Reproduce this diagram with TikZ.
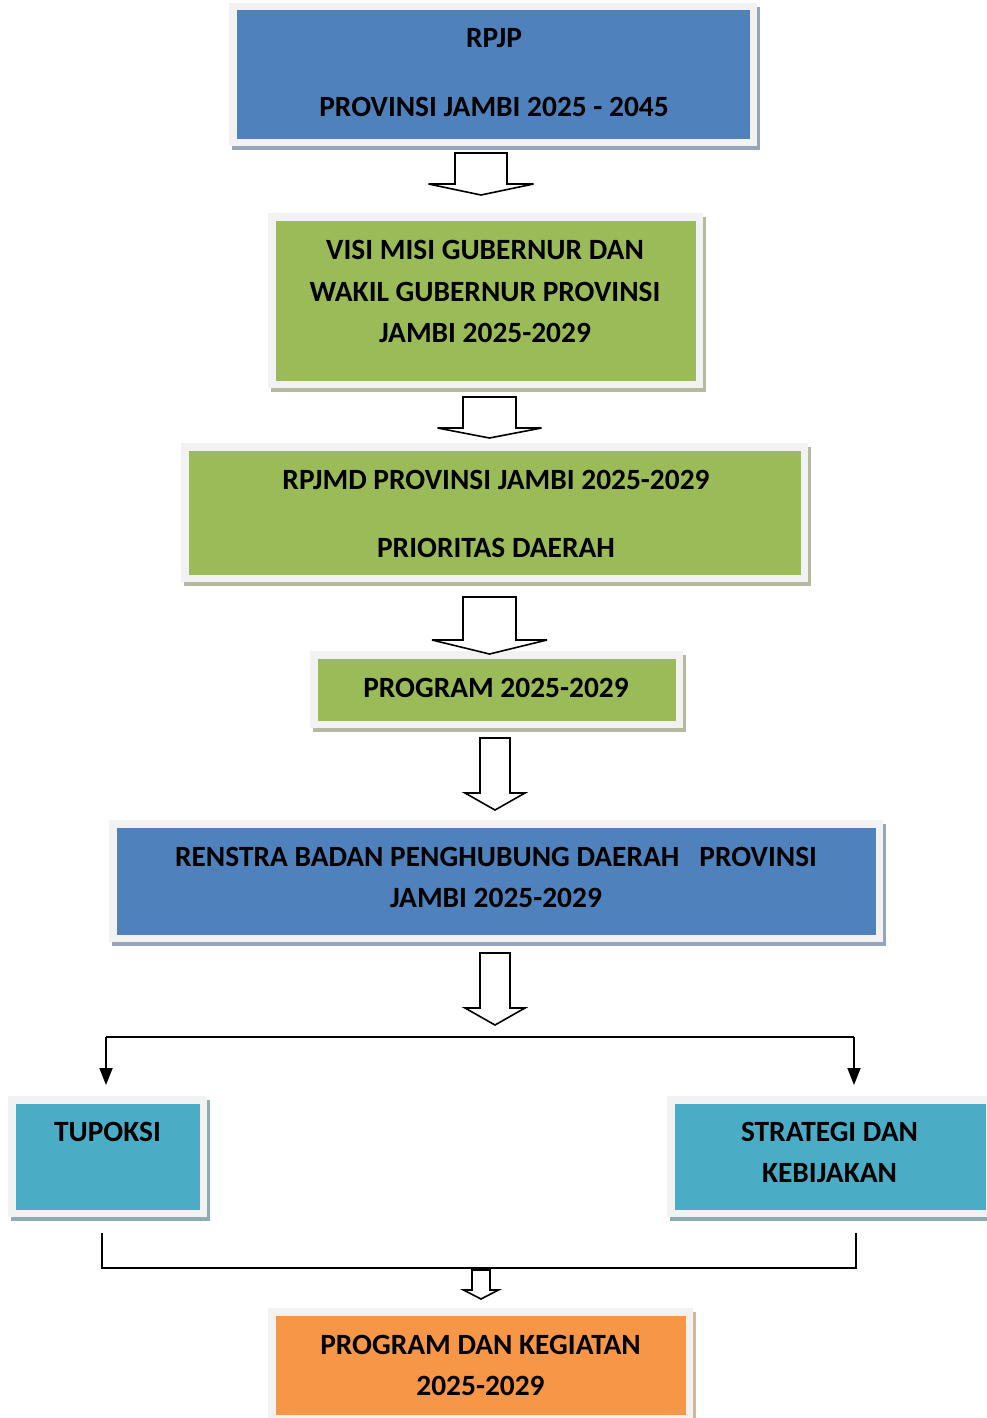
\documentclass[tikz,border=0pt]{standalone}
\usepackage{fontspec}
\setmainfont{Carlito}
\usetikzlibrary{calc,arrows.meta}
\definecolor{framegray}{HTML}{F2F2F2}
\definecolor{cblue}{HTML}{4F81BD}
\definecolor{sblue}{HTML}{95A5BC}
\definecolor{cgreen}{HTML}{9BBB59}
\definecolor{sgreen}{HTML}{B3BAA0}
\definecolor{ccyan}{HTML}{4BACC6}
\definecolor{scyan}{HTML}{8FAAB2}
\definecolor{corange}{HTML}{F79646}
\definecolor{sorange}{HTML}{D8B599}
\tikzset{
  box/.style n args={4}{draw=framegray, line width=7.5pt, fill=#1,
    minimum width=#3pt-7.5pt, minimum height=#4pt-7.5pt, inner sep=0pt,
    preaction={draw=#2, fill=#2, transform canvas={shift={(3pt,-4pt)}}}},
  txt/.style={font=\bfseries\fontsize{29.4}{41}\selectfont, align=center, inner sep=0pt, text=black},
  barrow/.style={draw=black, line width=1.6pt, fill=white, line join=miter, miter limit=6},
  conn/.style={draw=black, line width=1.8pt},
  tip/.style={-{Triangle[width=13pt,length=17pt]}}
}
\newcommand\blockarrow[5]{%
  \path[barrow] let \p1=(#1), \p2=(#2) in
    (\x1-#3pt,\y1) -- (\x1+#3pt,\y1) -- (\x1+#3pt,\y2+#5pt) -- (\x1+#4pt,\y2+#5pt)
    -- (\x2,\y2) -- (\x1-#4pt,\y2+#5pt) -- (\x1-#3pt,\y2+#5pt) -- cycle;}
\begin{document}
\begin{tikzpicture}[x=1pt,y=-1pt]
\useasboundingbox (0,0) rectangle (987,1418);
\clip (0,0) rectangle (987,1418);
% boxes
\node[box={cblue}{sblue}{528}{143}] (b1) at (493,74.5) {};
\node[box={cgreen}{sgreen}{435}{175}] (b2) at (485.5,300.5) {};
\node[box={cgreen}{sgreen}{627}{139}] (b3) at (494.5,512.5) {};
\node[box={cgreen}{sgreen}{373}{77}] (b4) at (496.5,689.5) {};
\node[box={cblue}{sblue}{774}{122}] (b5) at (496,881) {};
\node[box={ccyan}{scyan}{199}{121}] (b6) at (107.5,1156.5) {};
\node[box={ccyan}{scyan}{326}{121}] (b7) at (830,1156.5) {};
\node[box={corange}{sorange}{425}{114}] (b8) at (480.5,1365) {};
% texts
\node[txt] (t1) at (494,72.5) {RPJP\\[28pt]PROVINSI JAMBI 2025 - 2045};
\node[txt] (t2) at (485,291.5) {VISI MISI GUBERNUR DAN\\[0.5pt]WAKIL GUBERNUR PROVINSI\\[0.5pt]JAMBI 2025-2029};
\node[txt] (t3) at (496,514) {RPJMD PROVINSI JAMBI 2025-2029\\[27pt]PRIORITAS DAERAH};
\node[txt] (t4) at (496,688) {PROGRAM 2025-2029};
\node[txt] (t5) at (496,877.5) {RENSTRA BADAN PENGHUBUNG DAERAH\ \ \ PROVINSI\\JAMBI 2025-2029};
\node[txt] (t6) at (107.5,1132) {TUPOKSI};
\node[txt] (t7) at (829.5,1152.5) {STRATEGI DAN\\KEBIJAKAN};
\node[txt] (t8) at (480.5,1365.5) {PROGRAM DAN KEGIATAN\\2025-2029};
% block arrows
\coordinate (a1s) at (481,153);  \coordinate (a1e) at (481,195);
\coordinate (a2s) at (489.5,397); \coordinate (a2e) at (489.5,438);
\coordinate (a3s) at (489.5,597); \coordinate (a3e) at (489.5,654);
\coordinate (a4s) at (495,738);  \coordinate (a4e) at (495,810);
\coordinate (a5s) at (495,953);  \coordinate (a5e) at (495,1025);
\coordinate (a6s) at (481,1270); \coordinate (a6e) at (481,1299);
\blockarrow{a1s}{a1e}{26}{52.5}{11}
\blockarrow{a2s}{a2e}{26.5}{52}{10}
\blockarrow{a3s}{a3e}{26.5}{57.5}{14}
\blockarrow{a4s}{a4e}{15}{30}{17}
\blockarrow{a5s}{a5e}{15}{30}{17}
\blockarrow{a6s}{a6e}{9}{17.5}{9}
% split connector
\coordinate (hl) at (106,1037);
\coordinate (hr) at (854,1037);
\coordinate (hle) at (106,1085);
\coordinate (hre) at (854,1085);
\draw[conn] (hl) -- (hr);
\draw[conn,tip] (hl) -- (hle);
\draw[conn,tip] (hr) -- (hre);
% join bracket
\coordinate (jl) at (102,1233);
\coordinate (jr) at (856,1233);
\draw[conn, line width=1.5pt] (jl) -- (jl |- 0,1268) -- (jr |- 0,1268) -- (jr);
\end{tikzpicture}
\end{document}
